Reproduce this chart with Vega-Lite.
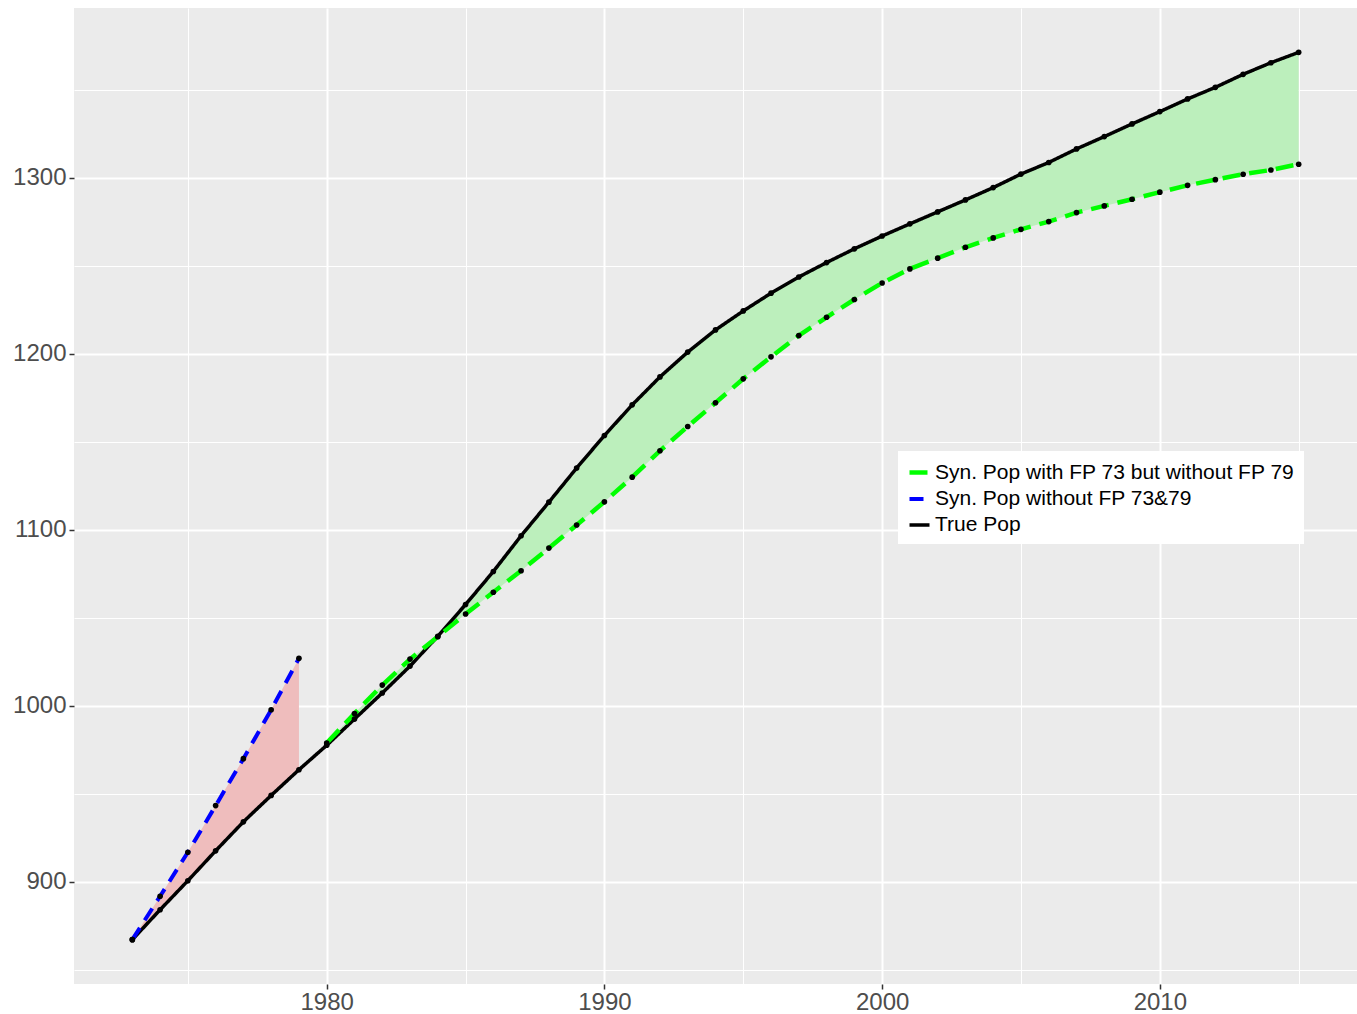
{
  "$schema": "https://vega.github.io/schema/vega-lite/v6.json",
  "width": 1283,
  "height": 976,
  "autosize": {"type": "none"},
  "padding": {"left": 74, "top": 8, "right": 0, "bottom": 30},
  "background": "white",
  "config": {
    "view": {"fill": "#EBEBEB", "stroke": null},
    "font": "Liberation Sans"
  },
  "datasets": {
    "band": [
      {"year": 1973, "band": "pink", "upper": 867, "lower": 867},
      {"year": 1974, "band": "pink", "upper": 891.7, "lower": 884},
      {"year": 1975, "band": "pink", "upper": 916.7, "lower": 900.5},
      {"year": 1976, "band": "pink", "upper": 943.2, "lower": 917.5},
      {"year": 1977, "band": "pink", "upper": 969.9, "lower": 934},
      {"year": 1978, "band": "pink", "upper": 997.7, "lower": 949},
      {"year": 1979, "band": "pink", "upper": 1026.9, "lower": 963.6},
      {"year": 1980, "band": "green", "upper": 978.8, "lower": 977.5},
      {"year": 1981, "band": "green", "upper": 995.5, "lower": 992.4},
      {"year": 1982, "band": "green", "upper": 1011.7, "lower": 1007.2},
      {"year": 1983, "band": "green", "upper": 1026.5, "lower": 1022.5},
      {"year": 1984, "band": "green", "upper": 1039.2, "lower": 1039.5},
      {"year": 1985, "band": "green", "upper": 1052.1, "lower": 1057.5},
      {"year": 1986, "band": "green", "upper": 1064.5, "lower": 1076.3},
      {"year": 1987, "band": "green", "upper": 1076.7, "lower": 1096.6},
      {"year": 1988, "band": "green", "upper": 1089.6, "lower": 1115.7},
      {"year": 1989, "band": "green", "upper": 1102.7, "lower": 1135.1},
      {"year": 1990, "band": "green", "upper": 1115.9, "lower": 1153.6},
      {"year": 1991, "band": "green", "upper": 1129.9, "lower": 1171},
      {"year": 1992, "band": "green", "upper": 1144.9, "lower": 1186.9},
      {"year": 1993, "band": "green", "upper": 1158.7, "lower": 1201},
      {"year": 1994, "band": "green", "upper": 1172.2, "lower": 1213.6},
      {"year": 1995, "band": "green", "upper": 1185.8, "lower": 1224.4},
      {"year": 1996, "band": "green", "upper": 1198.3, "lower": 1234.5},
      {"year": 1997, "band": "green", "upper": 1210.4, "lower": 1243.7},
      {"year": 1998, "band": "green", "upper": 1220.8, "lower": 1251.9},
      {"year": 1999, "band": "green", "upper": 1230.9, "lower": 1259.7},
      {"year": 2000, "band": "green", "upper": 1240.3, "lower": 1267},
      {"year": 2001, "band": "green", "upper": 1248.3, "lower": 1273.9},
      {"year": 2002, "band": "green", "upper": 1254.4, "lower": 1280.7},
      {"year": 2003, "band": "green", "upper": 1260.6, "lower": 1287.5},
      {"year": 2004, "band": "green", "upper": 1265.9, "lower": 1294.5},
      {"year": 2005, "band": "green", "upper": 1270.8, "lower": 1302.2},
      {"year": 2006, "band": "green", "upper": 1275.2, "lower": 1308.8},
      {"year": 2007, "band": "green", "upper": 1280.3, "lower": 1316.5},
      {"year": 2008, "band": "green", "upper": 1284.1, "lower": 1323.5},
      {"year": 2009, "band": "green", "upper": 1287.9, "lower": 1330.7},
      {"year": 2010, "band": "green", "upper": 1291.9, "lower": 1337.7},
      {"year": 2011, "band": "green", "upper": 1295.8, "lower": 1344.9},
      {"year": 2012, "band": "green", "upper": 1299, "lower": 1351.5},
      {"year": 2013, "band": "green", "upper": 1302.1, "lower": 1358.9},
      {"year": 2014, "band": "green", "upper": 1304.5, "lower": 1365.5},
      {"year": 2015, "band": "green", "upper": 1307.8, "lower": 1371.4}
    ],
    "pop": [
      {"year": 1973, "series": "True Pop", "value": 867},
      {"year": 1974, "series": "True Pop", "value": 884},
      {"year": 1975, "series": "True Pop", "value": 900.5},
      {"year": 1976, "series": "True Pop", "value": 917.5},
      {"year": 1977, "series": "True Pop", "value": 934},
      {"year": 1978, "series": "True Pop", "value": 949},
      {"year": 1979, "series": "True Pop", "value": 963.6},
      {"year": 1980, "series": "True Pop", "value": 977.5},
      {"year": 1981, "series": "True Pop", "value": 992.4},
      {"year": 1982, "series": "True Pop", "value": 1007.2},
      {"year": 1983, "series": "True Pop", "value": 1022.5},
      {"year": 1984, "series": "True Pop", "value": 1039.5},
      {"year": 1985, "series": "True Pop", "value": 1057.5},
      {"year": 1986, "series": "True Pop", "value": 1076.3},
      {"year": 1987, "series": "True Pop", "value": 1096.6},
      {"year": 1988, "series": "True Pop", "value": 1115.7},
      {"year": 1989, "series": "True Pop", "value": 1135.1},
      {"year": 1990, "series": "True Pop", "value": 1153.6},
      {"year": 1991, "series": "True Pop", "value": 1171},
      {"year": 1992, "series": "True Pop", "value": 1186.9},
      {"year": 1993, "series": "True Pop", "value": 1201},
      {"year": 1994, "series": "True Pop", "value": 1213.6},
      {"year": 1995, "series": "True Pop", "value": 1224.4},
      {"year": 1996, "series": "True Pop", "value": 1234.5},
      {"year": 1997, "series": "True Pop", "value": 1243.7},
      {"year": 1998, "series": "True Pop", "value": 1251.9},
      {"year": 1999, "series": "True Pop", "value": 1259.7},
      {"year": 2000, "series": "True Pop", "value": 1267},
      {"year": 2001, "series": "True Pop", "value": 1273.9},
      {"year": 2002, "series": "True Pop", "value": 1280.7},
      {"year": 2003, "series": "True Pop", "value": 1287.5},
      {"year": 2004, "series": "True Pop", "value": 1294.5},
      {"year": 2005, "series": "True Pop", "value": 1302.2},
      {"year": 2006, "series": "True Pop", "value": 1308.8},
      {"year": 2007, "series": "True Pop", "value": 1316.5},
      {"year": 2008, "series": "True Pop", "value": 1323.5},
      {"year": 2009, "series": "True Pop", "value": 1330.7},
      {"year": 2010, "series": "True Pop", "value": 1337.7},
      {"year": 2011, "series": "True Pop", "value": 1344.9},
      {"year": 2012, "series": "True Pop", "value": 1351.5},
      {"year": 2013, "series": "True Pop", "value": 1358.9},
      {"year": 2014, "series": "True Pop", "value": 1365.5},
      {"year": 2015, "series": "True Pop", "value": 1371.4},
      {"year": 1973, "series": "Syn. Pop without FP 73&79", "value": 867},
      {"year": 1974, "series": "Syn. Pop without FP 73&79", "value": 891.7},
      {"year": 1975, "series": "Syn. Pop without FP 73&79", "value": 916.7},
      {"year": 1976, "series": "Syn. Pop without FP 73&79", "value": 943.2},
      {"year": 1977, "series": "Syn. Pop without FP 73&79", "value": 969.9},
      {"year": 1978, "series": "Syn. Pop without FP 73&79", "value": 997.7},
      {"year": 1979, "series": "Syn. Pop without FP 73&79", "value": 1026.9},
      {"year": 1980, "series": "Syn. Pop with FP 73 but without FP 79", "value": 978.8},
      {"year": 1981, "series": "Syn. Pop with FP 73 but without FP 79", "value": 995.5},
      {"year": 1982, "series": "Syn. Pop with FP 73 but without FP 79", "value": 1011.7},
      {"year": 1983, "series": "Syn. Pop with FP 73 but without FP 79", "value": 1026.5},
      {"year": 1984, "series": "Syn. Pop with FP 73 but without FP 79", "value": 1039.2},
      {"year": 1985, "series": "Syn. Pop with FP 73 but without FP 79", "value": 1052.1},
      {"year": 1986, "series": "Syn. Pop with FP 73 but without FP 79", "value": 1064.5},
      {"year": 1987, "series": "Syn. Pop with FP 73 but without FP 79", "value": 1076.7},
      {"year": 1988, "series": "Syn. Pop with FP 73 but without FP 79", "value": 1089.6},
      {"year": 1989, "series": "Syn. Pop with FP 73 but without FP 79", "value": 1102.7},
      {"year": 1990, "series": "Syn. Pop with FP 73 but without FP 79", "value": 1115.9},
      {"year": 1991, "series": "Syn. Pop with FP 73 but without FP 79", "value": 1129.9},
      {"year": 1992, "series": "Syn. Pop with FP 73 but without FP 79", "value": 1144.9},
      {"year": 1993, "series": "Syn. Pop with FP 73 but without FP 79", "value": 1158.7},
      {"year": 1994, "series": "Syn. Pop with FP 73 but without FP 79", "value": 1172.2},
      {"year": 1995, "series": "Syn. Pop with FP 73 but without FP 79", "value": 1185.8},
      {"year": 1996, "series": "Syn. Pop with FP 73 but without FP 79", "value": 1198.3},
      {"year": 1997, "series": "Syn. Pop with FP 73 but without FP 79", "value": 1210.4},
      {"year": 1998, "series": "Syn. Pop with FP 73 but without FP 79", "value": 1220.8},
      {"year": 1999, "series": "Syn. Pop with FP 73 but without FP 79", "value": 1230.9},
      {"year": 2000, "series": "Syn. Pop with FP 73 but without FP 79", "value": 1240.3},
      {"year": 2001, "series": "Syn. Pop with FP 73 but without FP 79", "value": 1248.3},
      {"year": 2002, "series": "Syn. Pop with FP 73 but without FP 79", "value": 1254.4},
      {"year": 2003, "series": "Syn. Pop with FP 73 but without FP 79", "value": 1260.6},
      {"year": 2004, "series": "Syn. Pop with FP 73 but without FP 79", "value": 1265.9},
      {"year": 2005, "series": "Syn. Pop with FP 73 but without FP 79", "value": 1270.8},
      {"year": 2006, "series": "Syn. Pop with FP 73 but without FP 79", "value": 1275.2},
      {"year": 2007, "series": "Syn. Pop with FP 73 but without FP 79", "value": 1280.3},
      {"year": 2008, "series": "Syn. Pop with FP 73 but without FP 79", "value": 1284.1},
      {"year": 2009, "series": "Syn. Pop with FP 73 but without FP 79", "value": 1287.9},
      {"year": 2010, "series": "Syn. Pop with FP 73 but without FP 79", "value": 1291.9},
      {"year": 2011, "series": "Syn. Pop with FP 73 but without FP 79", "value": 1295.8},
      {"year": 2012, "series": "Syn. Pop with FP 73 but without FP 79", "value": 1299},
      {"year": 2013, "series": "Syn. Pop with FP 73 but without FP 79", "value": 1302.1},
      {"year": 2014, "series": "Syn. Pop with FP 73 but without FP 79", "value": 1304.5},
      {"year": 2015, "series": "Syn. Pop with FP 73 but without FP 79", "value": 1307.8}
    ]
  },
  "encoding": {
    "x": {
      "field": "year",
      "type": "quantitative",
      "scale": {"domain": [1970.9, 2017.1], "nice": false, "zero": false},
      "axis": {
        "title": null,
        "values": [1975, 1980, 1985, 1990, 1995, 2000, 2005, 2010, 2015],
        "format": "d",
        "labelExpr": "datum.value % 10 === 0 ? datum.label : ''",
        "domain": false,
        "grid": true,
        "gridColor": "white",
        "gridWidth": {"condition": {"test": "datum.value % 10 === 0", "value": 2}, "value": 1},
        "tickColor": "#333333",
        "tickWidth": 1.5,
        "tickSize": {"condition": {"test": "datum.value % 10 === 0", "value": 5}, "value": 0},
        "labelFontSize": 24,
        "labelColor": "#4D4D4D",
        "labelPadding": 1,
        "labelFlush": false
      }
    }
  },
  "layer": [
    {
      "data": {"name": "band"},
      "mark": {"type": "area", "opacity": 1},
      "encoding": {
        "y": {
          "field": "upper",
          "type": "quantitative",
          "stack": null,
          "scale": {"domain": [841.8, 1396.6], "nice": false, "zero": false},
          "axis": {
            "title": null,
            "values": [850, 900, 950, 1000, 1050, 1100, 1150, 1200, 1250, 1300, 1350],
            "format": "d",
            "labelExpr": "datum.value % 100 === 0 ? datum.label : ''",
            "domain": false,
            "grid": true,
            "gridColor": "white",
            "gridWidth": {"condition": {"test": "datum.value % 100 === 0", "value": 2}, "value": 1},
            "tickColor": "#333333",
            "tickWidth": 1.5,
            "tickSize": {"condition": {"test": "datum.value % 100 === 0", "value": 5}, "value": 0},
            "labelFontSize": 24,
            "labelColor": "#4D4D4D",
            "labelPadding": 3,
            "labelFlush": false
          }
        },
        "y2": {"field": "lower"},
        "fill": {
          "field": "band",
          "type": "nominal",
          "scale": {"domain": ["pink", "green"], "range": ["#EFBDBD", "#BCEFBC"]},
          "legend": null
        }
      }
    },
    {
      "data": {"name": "pop"},
      "mark": {"type": "line"},
      "encoding": {
        "y": {"field": "value", "type": "quantitative", "axis": {"title": null}},
        "color": {
          "field": "series",
          "type": "nominal",
          "scale": {
            "domain": ["Syn. Pop with FP 73 but without FP 79", "Syn. Pop without FP 73&79", "True Pop"],
            "range": ["#00FF00", "#0000FF", "#000000"]
          },
          "legend": {
            "title": null,
            "orient": "none",
            "legendX": 824,
            "legendY": 443,
            "symbolType": "stroke",
            "symbolSize": 400,
            "symbolStrokeWidth": 4,
            "labelFontSize": 21,
            "labelColor": "black",
            "labelLimit": 500,
            "fillColor": "white",
            "padding": 9,
            "rowPadding": 4,
            "labelOffset": 3
          }
        },
        "strokeDash": {
          "field": "series",
          "type": "nominal",
          "scale": {
            "domain": ["Syn. Pop with FP 73 but without FP 79", "Syn. Pop without FP 73&79", "True Pop"],
            "range": [[18, 9], [14, 9], [1, 0]]
          },
          "legend": null
        },
        "strokeWidth": {
          "field": "series",
          "type": "nominal",
          "scale": {
            "domain": ["Syn. Pop with FP 73 but without FP 79", "Syn. Pop without FP 73&79", "True Pop"],
            "range": [4.5, 3.5, 3.8]
          },
          "legend": null
        }
      }
    },
    {
      "data": {"name": "pop"},
      "mark": {"type": "point", "filled": true, "color": "black", "opacity": 1, "size": 32},
      "encoding": {
        "y": {"field": "value", "type": "quantitative", "axis": {"title": null}}
      }
    }
  ]
}
